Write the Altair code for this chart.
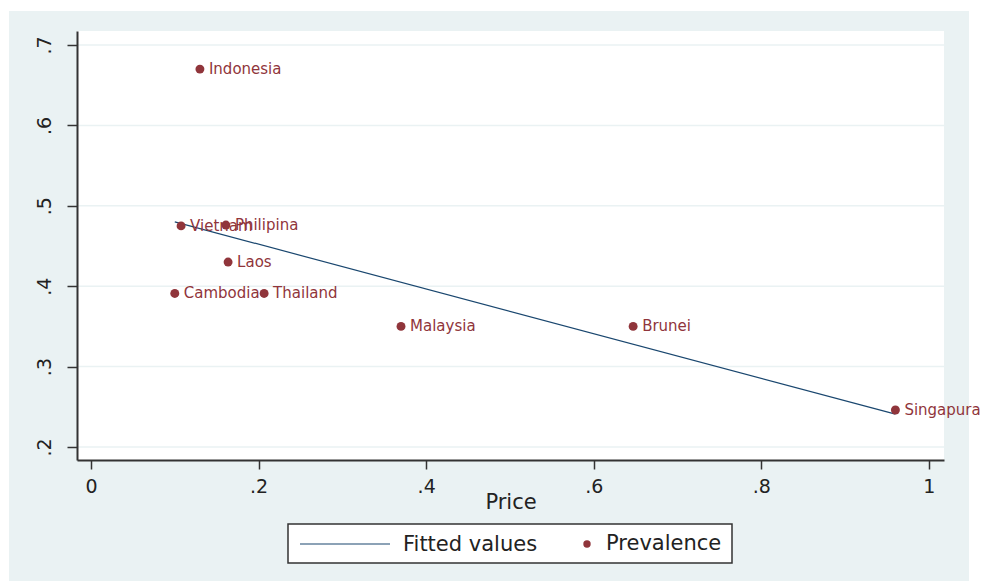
import altair as alt
import pandas as pd

# Smoking prevalence vs. cigarette price, ASEAN countries
countries = ["Indonesia", "Vietnam", "Philipina", "Laos", "Cambodia",
             "Thailand", "Malaysia", "Brunei", "Singapura"]
price = [0.130, 0.1075, 0.161, 0.1636, 0.100, 0.2066, 0.370, 0.647, 0.960]
prevalence = [0.670, 0.475, 0.476, 0.430, 0.391, 0.391, 0.350, 0.350, 0.246]

x_ticks = [0, 0.2, 0.4, 0.6, 0.8, 1]
y_ticks = [0.2, 0.3, 0.4, 0.5, 0.6, 0.7]
legend_labels = ["Fitted values", "Prevalence"]

NAVY = "#1a476f"
MAROON = "#90353b"
BG = "#eaf2f3"
INK = "#222222"
FONT = "DejaVu Sans"

W, H = 867, 429

df = pd.DataFrame({"country": countries, "price": price, "prev": prevalence})

xs = alt.Scale(domain=[-0.0167, 1.018], nice=False, zero=False)
ys = alt.Scale(domain=[0.1838, 0.7174], nice=False, zero=False)

x_axis = alt.Axis(
    values=x_ticks,
    labelExpr="datum.value == 0 ? '0' : datum.value == 1 ? '1' : replace(format(datum.value, '.1f'), '0.', '.')",
    title="Price", grid=False, domainColor="#333333", domainWidth=2,
    tickColor="#333333", tickWidth=1.5, tickSize=9,
    labelFont=FONT, labelFontSize=19, labelColor=INK, labelPadding=8,
    labelFlush=False, labelOverlap=False,
    titleFont=FONT, titleFontSize=21, titleFontWeight="normal", titleColor=INK,
    titleY=48, titleBaseline="alphabetic", zindex=1,
)
y_axis = alt.Axis(
    values=y_ticks,
    labelExpr="replace(format(datum.value, '.1f'), '0.', '.')",
    title=None, grid=False, domainColor="#333333", domainWidth=2,
    tickColor="#333333", tickWidth=1.5, tickSize=10,
    labelFont=FONT, labelFontSize=19, labelColor=INK,
    labelAngle=-90, labelAlign="center", labelBaseline="alphabetic",
    labelPadding=17, labelFlush=False, labelOverlap=False, zindex=1,
)

one = alt.Data(values=[{}])

# outer graph region and white plot region
outer = alt.Chart(one).mark_rect(fill=BG).encode(
    x=alt.value(-68), x2=alt.value(892), y=alt.value(-20), y2=alt.value(550))
inner = alt.Chart(one).mark_rect(fill="white").encode(
    x=alt.value(0), x2=alt.value(W), y=alt.value(0), y2=alt.value(H))

# horizontal grid lines at the y ticks
grid = alt.Chart(pd.DataFrame({"prev": y_ticks})).mark_rule(
    color=BG, strokeWidth=1.5).encode(
    y=alt.Y("prev:Q", scale=ys, axis=y_axis))

fit = alt.Chart(df).transform_regression("price", "prev").mark_line(
    color=NAVY, strokeWidth=1.2).encode(
    x=alt.X("price:Q", scale=xs, axis=x_axis),
    y=alt.Y("prev:Q", scale=ys, axis=y_axis))

labels = alt.Chart(df).mark_text(
    align="left", baseline="middle", dx=9, font=FONT, fontSize=15,
    color=MAROON).encode(
    x=alt.X("price:Q", scale=xs), y=alt.Y("prev:Q", scale=ys),
    text="country:N")

points = alt.Chart(df).mark_point(
    filled=True, shape="circle", size=80, color=MAROON, opacity=1).encode(
    x=alt.X("price:Q", scale=xs), y=alt.Y("prev:Q", scale=ys))

# legend box below the axis title
leg_box = alt.Chart(one).mark_rect(
    fill="white", stroke="#333333", strokeWidth=1.5).encode(
    x=alt.value(211), x2=alt.value(655), y=alt.value(493), y2=alt.value(532))
leg_line = alt.Chart(one).mark_rule(color=NAVY, strokeWidth=1.2).encode(
    x=alt.value(223), x2=alt.value(313), y=alt.value(513))
leg_dot = alt.Chart(one).mark_point(
    filled=True, shape="circle", size=55, color=MAROON, opacity=1).encode(
    x=alt.value(510), y=alt.value(513))
leg_txt1 = alt.Chart(alt.Data(values=[{"t": legend_labels[0]}])).mark_text(
    align="left", baseline="middle", font=FONT, fontSize=21, color=INK).encode(
    x=alt.value(326), y=alt.value(514), text="t:N")
leg_txt2 = alt.Chart(alt.Data(values=[{"t": legend_labels[1]}])).mark_text(
    align="left", baseline="middle", font=FONT, fontSize=21, color=INK).encode(
    x=alt.value(529), y=alt.value(513), text="t:N")

chart = alt.layer(
    outer, inner, grid, fit, labels, points,
    leg_box, leg_line, leg_dot, leg_txt1, leg_txt2,
).properties(
    width=W, height=H,
    padding={"left": 9, "top": 11, "right": 0, "bottom": 0},
    background="white",
).configure_view(stroke=None)

chart.save("out.html", embed_options={"renderer": "svg", "actions": False})
